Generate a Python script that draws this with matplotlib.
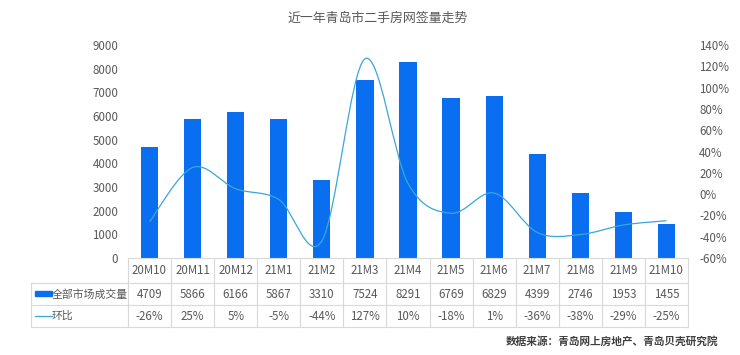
import matplotlib
matplotlib.use("Agg")
import matplotlib.pyplot as plt
import numpy as np
from matplotlib.path import Path
from matplotlib.patches import PathPatch, Rectangle
from matplotlib.lines import Line2D
from matplotlib.ticker import FuncFormatter

plt.rcParams['font.family'] = ['Noto Sans CJK SC', 'DejaVu Sans']

months = ["20M10", "20M11", "20M12", "21M1", "21M2", "21M3", "21M4",
          "21M5", "21M6", "21M7", "21M8", "21M9", "21M10"]
volume = [4709, 5866, 6166, 5867, 3310, 7524, 8291, 6769, 6829, 4399, 2746, 1953, 1455]
mom = [-26, 25, 5, -5, -44, 127, 10, -18, 1, -36, -38, -29, -25]
vol_label = "全部市场成交量"
mom_label = "环比"
title = "近一年青岛市二手房网签量走势"
source = "数据来源：青岛网上房地产、青岛贝壳研究院"

BAR = "#0A6EF0"
LINE = "#3AA6DA"
TXT = "#595959"
GRID = "#D9D9D9"
FS = 8.3

W, H = 740, 355
fig = plt.figure(figsize=(W / 100, H / 100), dpi=100)

left, right, top, bottom = 128, 688, 45, 258
ax = fig.add_axes([left / W, 1 - bottom / H, (right - left) / W, (bottom - top) / H])
ax2 = ax.twinx()

n = len(months)
x = np.arange(n)
ax.bar(x, volume, width=0.4, color=BAR, zorder=2)
ax.set_xlim(-0.5, n - 0.5)
ax.set_ylim(0, 9000)
ax.set_yticks(range(0, 9001, 1000))
ax.set_xticks([])
ax2.set_ylim(-60, 140)
ax2.set_yticks(range(-60, 141, 20))
ax2.yaxis.set_major_formatter(FuncFormatter(lambda v, p: f"{int(v)}%"))
for a in (ax, ax2):
    for s in a.spines.values():
        s.set_visible(False)
    a.tick_params(length=0, labelsize=FS, colors=TXT)
ax.tick_params(axis='y', pad=7)
ax2.tick_params(axis='y', pad=8)

# smoothed line (Catmull-Rom through the data points)
pts = np.column_stack([x, np.array(mom, dtype=float)])
verts = [pts[0]]
codes = [Path.MOVETO]
for i in range(n - 1):
    p0 = pts[i - 1] if i > 0 else pts[i]
    p1 = pts[i]
    p2 = pts[i + 1]
    p3 = pts[i + 2] if i + 2 < n else pts[i + 1]
    c1 = p1 + (p2 - p0) / 6
    c2 = p2 - (p3 - p1) / 6
    verts += [c1, c2, p2]
    codes += [Path.CURVE4] * 3
ax2.add_patch(PathPatch(Path(verts, codes), facecolor='none', edgecolor=LINE, lw=0.9, zorder=3))

# table
def fy(py):
    return 1 - py / H

def fx(px):
    return px / W

cell_x = [left + (right - left) * k / n for k in range(n + 1)]
lab_left = 31
y_axis, y1, y2, y3 = 258, 283, 305, 327
lc = dict(color=GRID, lw=0.8)
fig.add_artist(Line2D([fx(left), fx(right)], [fy(y_axis)] * 2, **lc))
for yy in (y1, y2, y3):
    fig.add_artist(Line2D([fx(lab_left), fx(right)], [fy(yy)] * 2, **lc))
for cx in cell_x:
    fig.add_artist(Line2D([fx(cx)] * 2, [fy(y_axis), fy(y3)], **lc))
fig.add_artist(Line2D([fx(lab_left)] * 2, [fy(y1), fy(y3)], **lc))

for i in range(n):
    cx = (cell_x[i] + cell_x[i + 1]) / 2
    fig.text(fx(cx), fy(271), months[i], ha='center', va='center', fontsize=FS, color=TXT)
    fig.text(fx(cx), fy(294), f"{volume[i]}", ha='center', va='center', fontsize=FS, color=TXT)
    fig.text(fx(cx), fy(316), f"{mom[i]}%", ha='center', va='center', fontsize=FS, color=TXT)

fig.add_artist(Rectangle((fx(35), fy(295.5)), fx(17), 4.5 / H, color=BAR))
fig.add_artist(Line2D([fx(35), fx(52)], [fy(315.5)] * 2, color=LINE, lw=0.9))
fig.text(fx(52), fy(294), vol_label, ha='left', va='center', fontsize=7.8, color=TXT)
fig.text(fx(52), fy(316), mom_label, ha='left', va='center', fontsize=7.8, color=TXT)

fig.text(fx(378), fy(18), title, ha='center', va='center', fontsize=9.3, color=TXT)
fig.text(fx(718), fy(341), source, ha='right', va='center', fontsize=7.7, color="#404040", fontweight='bold')

fig.savefig("out.png", dpi=100, facecolor='white')
